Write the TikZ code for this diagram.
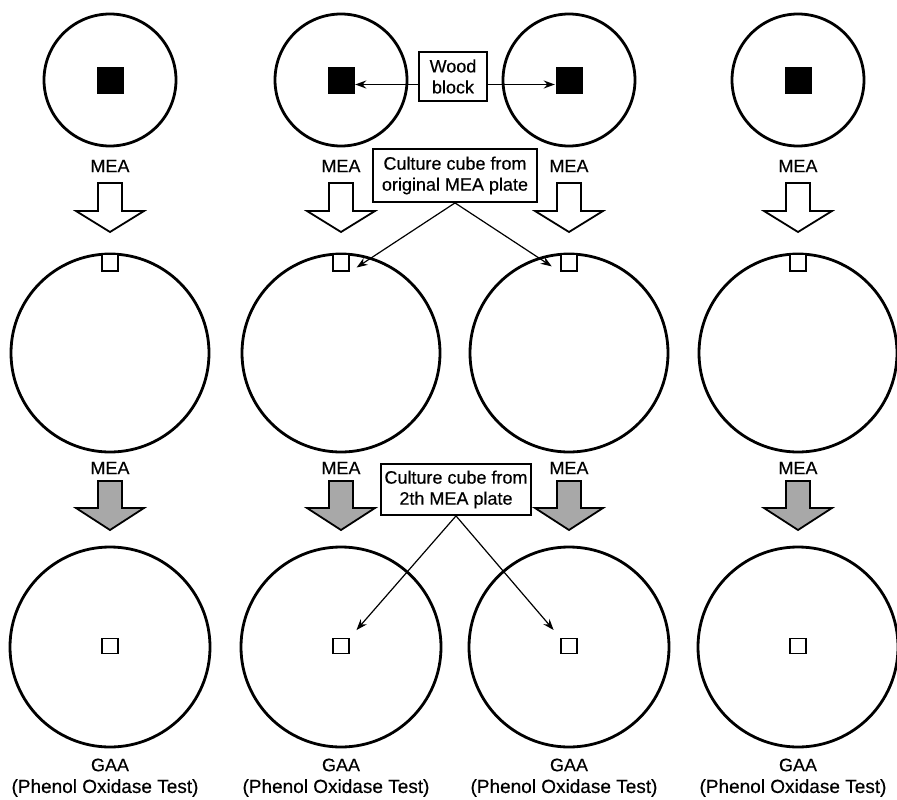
\documentclass[tikz,border=0pt]{standalone}
\usepackage{fontspec}
\setmainfont{Liberation Sans}
\newfontfamily\scanfont{Liberation Sans}[FakeBold=0.4]
\usetikzlibrary{arrows.meta}
\begin{document}
\begin{tikzpicture}[x=1pt,y=-1pt,
  plate/.style={circle,draw,line width=2.8pt,inner sep=0pt},
  topplate/.style={plate,minimum size=132pt},
  bigplate/.style={plate,minimum size=198pt},
  woodsq/.style={draw,fill=black,minimum size=26pt,inner sep=0pt},
  cubesq/.style={draw,fill=white,line width=1.8pt,minimum width=16pt,minimum height=17pt,inner sep=0pt},
  cubesqc/.style={draw,fill=white,line width=1.8pt,minimum width=16pt,minimum height=15pt,inner sep=0pt},
  lab/.style={font=\scanfont\fontsize{18}{21}\selectfont,inner sep=0pt},
  sublab/.style={font=\scanfont\fontsize{19}{21}\selectfont,inner sep=0pt},
  note/.style={draw,line width=1.8pt,fill=white,align=center,font=\scanfont\fontsize{18}{21}\selectfont,inner sep=0pt},
  blockarrow/.style={draw,line width=1.8pt,line join=miter},
  woodarrow/.style={line width=1.6pt,-{Stealth[length=11pt,width=8pt]},shorten >=1pt},
  conn/.style={line width=1.2pt,-{Stealth[length=11pt,width=8pt]}},
]
\useasboundingbox (0,0) rectangle (897,800);
\foreach \i/\x in {1/110,2/341,3/569,4/798}{
  % first MEA plate with wood block
  \node[topplate] (top\i) at (\x,80) {};
  \node[woodsq] (blk\i) at (\x,80) {};
  \node[lab] (meaA\i) at (\x,166) {MEA};
  \draw[blockarrow,fill=white] (\x-12,183) -- (\x+12,183) -- (\x+12,211) -- (\x+34,211)
     -- (\x,232) -- (\x-34,211) -- (\x-12,211) -- cycle;
  % second MEA plate
  \node[bigplate] (mid\i) at (\x,353) {};
  \node[cubesq] (sqm\i) at (\x,262.5) {};
  \node[lab] (meaB\i) at (\x,468) {MEA};
  \draw[blockarrow,fill={rgb,255:red,168;green,168;blue,168}] (\x-12,481) -- (\x+12,481) -- (\x+12,508) -- (\x+34,508)
     -- (\x,530) -- (\x-34,508) -- (\x-12,508) -- cycle;
  % GAA plate
  \node[plate,minimum size=200pt] (bot\i) at (\x,647) {};
  \node[cubesqc] (sqb\i) at (\x,646) {};
  \node[lab] (gaa\i) at (\x,765) {GAA};
  \node[sublab] (pot\i) at (\x-5,788) {(Phenol Oxidase Test)};
}
\node[note,minimum width=68pt,minimum height=49pt] (wood) at (453,76.5) {Wood\\block};
\node[note,minimum width=164pt,minimum height=53pt] (cc1) at (455,175.5) {Culture cube from\\original MEA plate};
\node[note,minimum width=150pt,minimum height=51pt] (cc2) at (456,489.5) {Culture cube from\\2th MEA plate};
\coordinate (wl) at ([yshift=-8pt]wood.west);
\coordinate (wr) at ([yshift=-8pt]wood.east);
\draw[woodarrow] (wl) -- (wl -| blk2.east);
\draw[woodarrow] (wr) -- (wr -| blk3.west);
\draw[conn,shorten >=8pt] (cc1.south) -- (sqm2.south east);
\draw[conn,shorten >=10pt] (cc1.south) -- (sqm3.south west);
\draw[conn,shorten >=10pt] (cc2.south) -- (sqb2.north east);
\draw[conn,shorten >=10pt] (cc2.south) -- (sqb3.north west);
\end{tikzpicture}
\end{document}
